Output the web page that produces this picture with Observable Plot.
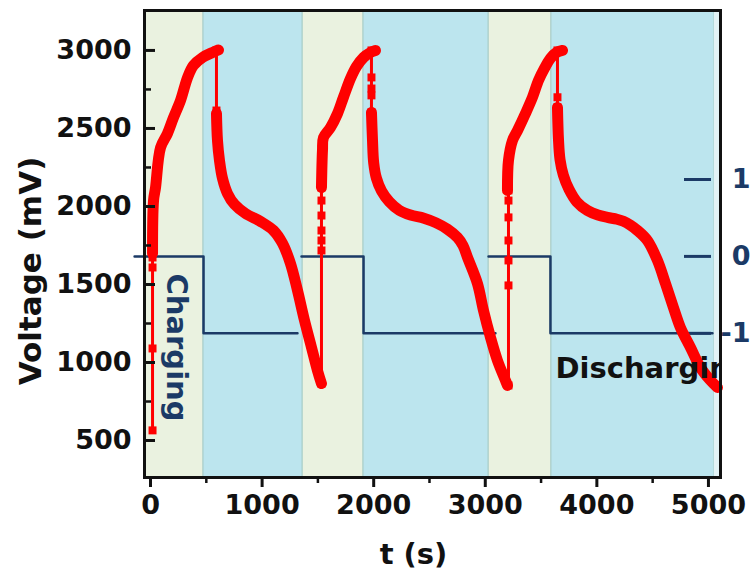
<!DOCTYPE html>
<html><head><meta charset="utf-8">
<script src="https://cdn.jsdelivr.net/npm/d3@7"></script>
<script src="https://cdn.jsdelivr.net/npm/@observablehq/plot@0.6"></script>
<style>html,body{margin:0;padding:0;background:#fff}#chart{position:absolute;left:0;top:0}</style>
</head><body><div id="chart"></div>
<script>
// ---- data: [t (s), voltage (mV)] ----
const charge1    = [[18,1700],[27,2038],[45,2122],[90,2378],[152,2468],[206,2570],[269,2680],[332,2827],[385,2904],[466,2955],[556,2987],[609,3003]];
const discharge1 = [[591,2596],[600,2423],[618,2295],[645,2180],[690,2083],[753,2013],[851,1955],[986,1904],[1102,1846],[1183,1763],[1254,1635],[1317,1462],[1380,1269],[1443,1096],[1496,949],[1532,865]];
const charge2    = [[1532,2122],[1541,2360],[1550,2442],[1613,2506],[1676,2596],[1729,2700],[1792,2820],[1846,2897],[1909,2955],[1971,2987],[2016,3000]];
const discharge2 = [[1980,2603],[1989,2430],[2000,2280],[2025,2180],[2070,2100],[2140,2030],[2230,1975],[2330,1945],[2450,1925],[2560,1895],[2660,1855],[2751,1801],[2800,1750],[2841,1673],[2930,1506],[2984,1333],[3047,1160],[3109,1013],[3181,885],[3199,853]];
const charge3    = [[3199,2103],[3208,2295],[3244,2423],[3289,2487],[3360,2596],[3423,2700],[3477,2808],[3530,2885],[3584,2949],[3638,2987],[3692,3000]];
const discharge3 = [[3647,2635],[3656,2430],[3670,2300],[3700,2200],[3750,2110],[3820,2030],[3916,1974],[4010,1945],[4095,1930],[4180,1918],[4238,1905],[4300,1880],[4364,1846],[4453,1782],[4543,1654],[4615,1506],[4686,1353],[4749,1224],[4839,1096],[4928,968],[5018,885],[5081,840]];

// sparse points on the vertical switching jumps
const jumpTimes = [18, 591, 1532, 1980, 3208, 3647];
const jumpVolts = [
  [565, 1090, 1609, 1673, 1700],
  [3000, 2615, 2596],
  [865, 1718, 1782, 1846, 1942, 2038, 2122],
  [3000, 2827, 2756, 2712, 2603],
  [853, 1494, 1654, 1782, 1930, 2038, 2103],
  [3000, 2700, 2635]
];

// current step signal (right axis units)
const cycleStart  = [-143, 1353, 3029];
const cycleSwitch = [475, 1909, 3584];
const cycleEnd    = [1317, 3091, 5036];
const chargeLevel = 0;
const dischargeLevel = -1;

// background bands
const bandStart = [-54, 475, 1362, 1909, 3029, 3593, 5054];
const bandEnd   = [475, 1362, 1909, 3029, 3593, 5054, 5108];
const bandType  = ["charge","discharge","charge","discharge","charge","discharge","edge"];

// axes
const xMajor = [0, 1000, 2000, 3000, 4000, 5000];
const xMinor = [500, 1500, 2500, 3500, 4500];
const yMajor = [500, 1000, 1500, 2000, 2500, 3000];
const yMinor = [750, 1250, 1750, 2250, 2750];
const rightTicks = [1, 0, -1];

// annotations
const annotText = ["Charging", "Discharging"];
const annotT = [233, 3629];
const annotV = [1096, 962];

// ---- build ----
const toMv = s => 1680 + 493 * s;       // secondary (right) axis -> left axis position
const fromMv = mv => Math.round((mv - 1680) / 493);

const segs = {c1: charge1, d1: discharge1, c2: charge2, d2: discharge2, c3: charge3, d3: discharge3};
const curve = Object.entries(segs).flatMap(([k, arr]) => arr.map(([t, v]) => ({seg: k, t, v})));
const jumps = jumpTimes.flatMap((t, i) => jumpVolts[i].map(v => ({seg: i, t, v})));
const step = cycleStart.flatMap((s, i) => [
  {c: i, t: s, s: chargeLevel},
  {c: i, t: cycleSwitch[i], s: chargeLevel},
  {c: i, t: cycleSwitch[i], s: dischargeLevel},
  {c: i, t: cycleEnd[i], s: dischargeLevel}
]);
const bands = bandStart.map((s, i) => ({x1: s, x2: bandEnd[i], type: bandType[i]}));

const navy = "#1b3a66";
const red = "#ff0000";
const ink = "#111";

const chart = Plot.plot({
  width: 752, height: 574,
  marginLeft: 144, marginRight: 32, marginTop: 10, marginBottom: 97,
  x: {domain: [-54, 5108]},
  y: {domain: [263, 3256]},
  style: {fontFamily: "DejaVu Sans", fontWeight: "bold", background: "#fff", overflow: "visible"},
  marks: [
    Plot.rect(bands.filter(d => d.type === "charge"), {x1: "x1", x2: "x2", fill: "#eaf2e0", stroke: "#a8cdc8", strokeWidth: 1}),
    Plot.rect(bands.filter(d => d.type === "discharge"), {x1: "x1", x2: "x2", fill: "#bce5ee", stroke: "#a8cdc8", strokeWidth: 1}),
    Plot.rect(bands.filter(d => d.type === "edge"), {x1: "x1", x2: "x2", fill: "#e3f3f6"}),
    // current step line
    Plot.line(step, {x: "t", y: d => toMv(d.s), z: "c", stroke: navy, strokeWidth: 2.5}),
    // right axis (current) ticks + labels
    Plot.axisY({anchor: "right", ticks: rightTicks.map(toMv), tickSize: 27, dx: -37, fill: "none", stroke: navy, strokeWidth: 3, label: null}),
    Plot.axisY({anchor: "right", ticks: rightTicks.map(toMv), tickSize: 0, tickPadding: 30, textAnchor: "end",
      tickFormat: mv => String(fromMv(mv)), fill: navy, fontSize: 27, label: null}),
    // voltage curve
    Plot.line(jumps, {x: "t", y: "v", z: "seg", stroke: red, strokeWidth: 3}),
    Plot.dot(jumps, {x: "t", y: "v", symbol: "square", r: 4.5, fill: red}),
    Plot.line(curve, {x: "t", y: "v", z: "seg", stroke: red, strokeWidth: 11, curve: "catmull-rom", strokeLinejoin: "round"}),
    // annotations
    Plot.text([0], {x: annotT[0], y: annotV[0], text: () => annotText[0], rotate: 90, fill: navy, fontSize: 29}),
    Plot.text([1], {x: annotT[1], y: annotV[1], text: () => annotText[1], textAnchor: "start", fill: ink, fontSize: 29, clip: true}),
    // left axis
    Plot.axisY({ticks: yMajor, tickSize: 11, dx: 11, fill: "none", stroke: ink, strokeWidth: 3, label: null}),
    Plot.axisY({ticks: yMinor, tickSize: 7, dx: 7, fill: "none", stroke: ink, strokeWidth: 2.5, label: null}),
    Plot.axisY({ticks: yMajor, tickSize: 0, tickPadding: 13, tickFormat: d => String(d), fill: ink, fontSize: 27, label: null}),
    // bottom axis
    Plot.axisX({ticks: xMajor, tickSize: 10, fill: "none", stroke: ink, strokeWidth: 3, label: null}),
    Plot.axisX({ticks: xMinor, tickSize: 6, fill: "none", stroke: ink, strokeWidth: 2.5, label: null}),
    Plot.axisX({ticks: xMajor, tickSize: 0, tickPadding: 17, tickFormat: d => String(d), fill: ink, fontSize: 27, label: null}),
    // axis titles
    Plot.text(["Voltage (mV)"], {frameAnchor: "left", textAnchor: "middle", lineAnchor: "middle", dx: -113, dy: 27, rotate: -90, fill: ink, fontSize: 31}),
    Plot.text(["t (s)"], {frameAnchor: "bottom", textAnchor: "middle", lineAnchor: "middle", dx: -19, dy: 77, fill: ink, fontSize: 29}),
    Plot.frame({stroke: ink, strokeWidth: 3})
  ]
});
document.getElementById("chart").appendChild(chart);
</script>
</body></html>
